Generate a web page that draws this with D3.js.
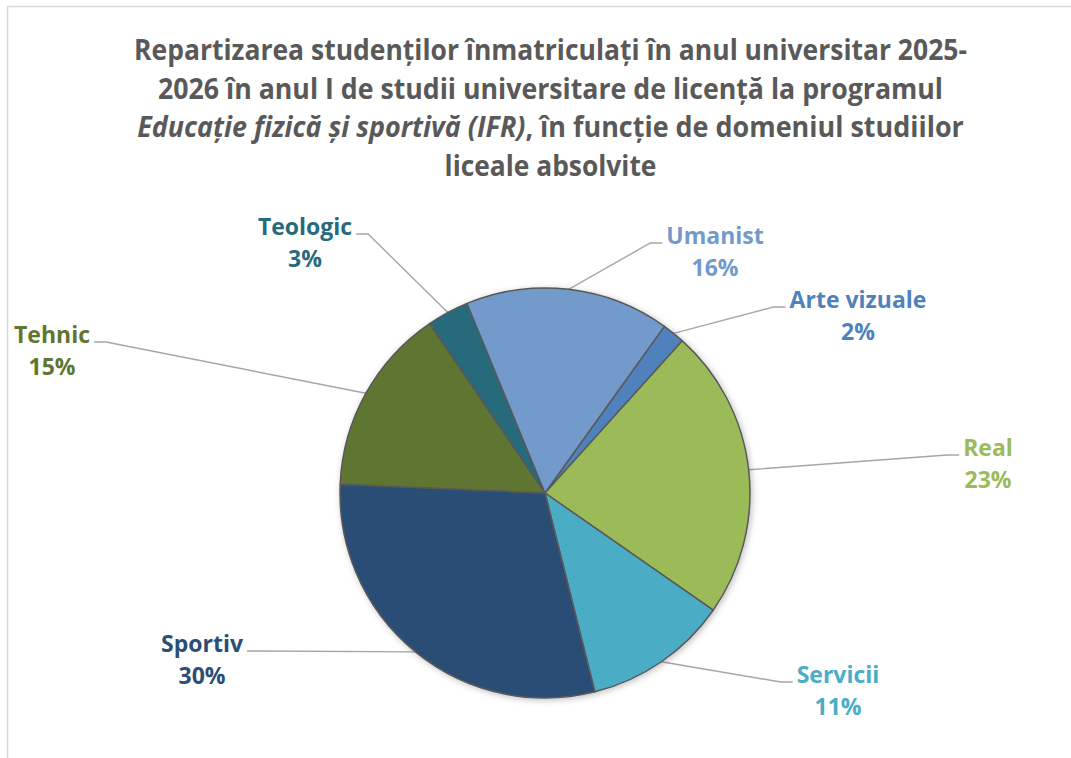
<!DOCTYPE html>
<html>
<head>
<meta charset="utf-8">
<script src="https://cdn.jsdelivr.net/npm/d3@7"></script>
<style>
  html, body { margin: 0; padding: 0; background: #fff; }
  svg { display: block; font-family: "Open Sans", "Noto Sans", sans-serif; }
</style>
</head>
<body>
<div id="chart"></div>
<script>
// Chart data
const categories = ['Arte vizuale', 'Real', 'Servicii', 'Sportiv', 'Tehnic', 'Teologic', 'Umanist'];
const shares = [1.8, 23.0, 11.4, 29.6, 14.8, 3.3, 16.1];
const sliceColors = ['#4F81BD', '#9BBB59', '#4BACC6', '#2C4D75', '#5F7530', '#276A7C', '#729ACA'];

const titleLines = [
    [{ t: 'Repartizarea studenților înmatriculați în anul universitar 2025-' }],
    [{ t: '2026 în anul I de studii universitare de licență la programul' }],
    [{ t: 'Educație fizică și sportivă (IFR)', italic: true }, { t: ', în funcție de domeniul studiilor' }],
    [{ t: 'liceale absolvite' }]
];

// Layout
const width = 1071;
const height = 758;
const cx = 545, cy = 493, radius = 205;
const startDeg = 35.6;
const titleWidths = [833, 785, 827, 212];
const titleBaselines = [60, 98.5, 137, 175.5];
// label anchor: centre x, baseline of first line
const labelAnchors = {
    'Arte vizuale': [858, 308],
    'Real': [988, 456],
    'Servicii': [838, 683],
    'Sportiv': [202, 652],
    'Tehnic': [52, 343],
    'Teologic': [305, 235],
    'Umanist': [715, 244]
};

const svg = d3.select('#chart').append('svg')
    .attr('width', width)
    .attr('height', height);

const defs = svg.append('defs');
const shadow = defs.append('filter').attr('id', 'pieShadow')
    .attr('x', '-10%').attr('y', '-10%').attr('width', '120%').attr('height', '120%');
shadow.append('feDropShadow')
    .attr('dx', 1.5).attr('dy', 1.5).attr('stdDeviation', 3)
    .attr('flood-color', '#000').attr('flood-opacity', 0.25);

// chart area border (left and top visible)
svg.append('path')
    .attr('d', `M7.5,${height} L7.5,6.5 L${width},6.5`)
    .attr('fill', 'none')
    .attr('stroke', '#D9D9D9')
    .attr('stroke-width', 1.5);

// Title
const titleG = svg.append('g').attr('fill', '#595959').style('font-weight', 'bold');
titleLines.forEach((parts, i) => {
    const txt = titleG.append('text')
        .attr('text-anchor', 'middle')
        .style('font-size', '28px');
    parts.forEach(p => {
        txt.append('tspan')
            .style('font-style', p.italic ? 'italic' : 'normal')
            .text(p.t);
    });
    const w = txt.node().getComputedTextLength();
    const sx = titleWidths[i] / w;
    txt.attr('transform', `translate(550.5,${titleBaselines[i]}) scale(${sx},1)`);
});

// Pie
const data = categories.map((c, i) => ({ name: c, value: shares[i], color: sliceColors[i] }));
const total = d3.sum(shares);
const pct = d3.format('.0%');

const start = startDeg * Math.PI / 180;
const pie = d3.pie().value(d => d.value).sort(null)
    .startAngle(start).endAngle(start + 2 * Math.PI);
const arc = d3.arc().innerRadius(0).outerRadius(radius);
const edgeArc = d3.arc().innerRadius(radius).outerRadius(radius);

const arcs = pie(data);

const pieG = svg.append('g')
    .attr('transform', `translate(${cx},${cy})`);

pieG.append('g')
    .attr('filter', 'url(#pieShadow)')
    .selectAll('path')
    .data(arcs)
    .enter()
    .append('path')
    .attr('d', arc)
    .attr('fill', d => d.data.color)
    .attr('stroke', '#595959')
    .attr('stroke-width', 1.5)
    .attr('stroke-linejoin', 'round');

// Labels + leader lines
const labelG = svg.append('g').style('font-weight', 'bold').style('font-size', '23px');

arcs.forEach(d => {
    const [lx, ly] = labelAnchors[d.data.name];
    const t = labelG.append('text')
        .attr('x', lx)
        .attr('y', ly)
        .attr('text-anchor', 'middle')
        .attr('fill', d.data.color);
    t.append('tspan').attr('x', lx).text(d.data.name);
    t.append('tspan').attr('x', lx).attr('dy', 32).text(pct(d.data.value / total));

    const nameW = t.select('tspan').node().getComputedTextLength();
    const [px, py] = edgeArc.centroid(d);
    const ex = cx + px, ey = cy + py;
    const onRight = lx > cx;
    const x0 = onRight ? lx - nameW / 2 - 4 : lx + nameW / 2 + 4;
    const x1 = onRight ? x0 - 12 : x0 + 12;
    const y0 = ly - 1;

    svg.insert('path', 'g')
        .attr('d', `M${x0},${y0} L${x1},${y0} L${ex},${ey}`)
        .attr('fill', 'none')
        .attr('stroke', '#A6A6A6')
        .attr('stroke-width', 1.4);
});
</script>
</body>
</html>
